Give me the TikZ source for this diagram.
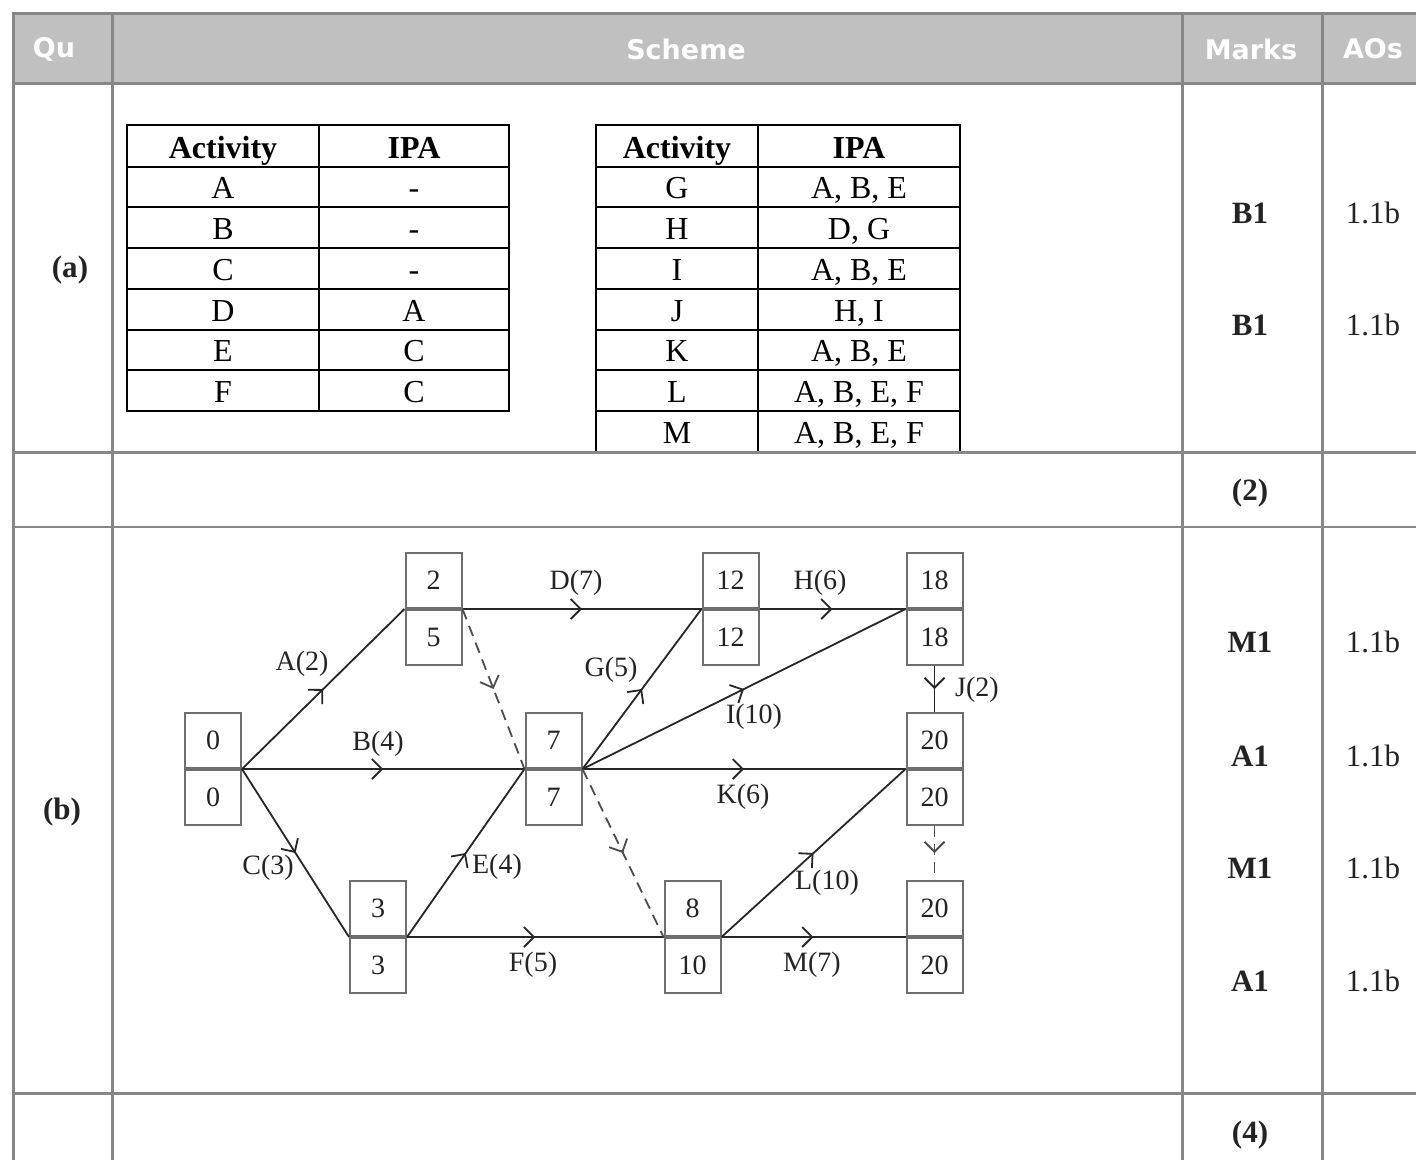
\documentclass[tikz,border=0pt]{standalone}
\usepackage{fontspec}
\setmainfont{Liberation Serif}
\newfontfamily\hdrfont{DejaVu Sans}
\usetikzlibrary{arrows.meta,decorations.markings}
\definecolor{gridc}{RGB}{135,135,135}
\definecolor{hdrc}{RGB}{192,192,192}
\definecolor{boxc}{RGB}{110,110,110}
\definecolor{inkc}{RGB}{35,35,35}
\newcommand\evbox[5]{%
  \node[cell] (#1t) at (#2,#3) {#4};
  \node[cell, anchor=north] (#1b) at (#1t.south) {#5};}
\begin{document}
\begin{tikzpicture}[x=1pt,y=-1pt,
  grid/.style={draw=gridc, line width=3pt},
  thingrid/.style={draw=gridc, line width=2pt},
  tline/.style={draw=black, line width=1.8pt},
  ttext/.style={font=\fontsize{32}{37}\selectfont, inner sep=0pt, anchor=base},
  tbold/.style={font=\fontsize{32}{37}\selectfont\bfseries, inner sep=0pt, anchor=base},
  hdr/.style={font=\hdrfont\bfseries\fontsize{27}{32}\selectfont, text=white, inner sep=0pt},
  mk/.style={font=\fontsize{31}{36}\selectfont\bfseries, inner sep=0pt, text=inkc},
  ao/.style={font=\fontsize{31}{36}\selectfont, inner sep=0pt, text=inkc},
  cell/.style={draw=boxc, line width=2pt, minimum width=56pt, minimum height=55pt, inner sep=0pt, font=\fontsize{28}{32}\selectfont, text=inkc},
  lab/.style={font=\fontsize{28}{32}\selectfont, text=inkc, inner sep=0pt},
  act/.style={draw=black!85, line width=1.8pt, postaction={decorate},
    decoration={markings, mark=at position 0.5 with {\arrow{Straight Barb[length=10pt,width=20pt]}}}},
  dummy/.style={act, draw=black!70, dash pattern=on 11pt off 7pt},
]
\useasboundingbox (0,0) rectangle (1416,1160);
\fill[white] (0,0) rectangle (1416,1160);
% header
\fill[hdrc] (13,13) rectangle (1416,83);
\node[hdr] (hqu) at (54,49) {Qu};
\node[hdr] (hsc) at (686,49) {Scheme};
\node[hdr] (hmk) at (1251,49) {Marks};
\node[hdr] (hao) at (1373,49) {AOs};

% small table 1
\draw[tline] (127,125) rectangle (509,411);
\draw[tline] (319,125) -- (319,411);
\foreach \y in {167,207,248,289,330,370} \draw[tline] (127,\y) -- (509,\y);
% small table 2
\draw[tline] (596,452) -- (596,125) -- (960,125) -- (960,452);
\draw[tline] (758,125) -- (758,452);
\foreach \y in {167,207,248,289,330,370,411} \draw[tline] (596,\y) -- (960,\y);

\node[tbold] (t1h1) at (223,158) {Activity};
\node[tbold] (t1h2) at (414,158) {IPA};
\node[ttext] (t1a) at (223,198) {A};  \node[ttext] (t1ap) at (414,198) {-};
\node[ttext] (t1b) at (223,239) {B};  \node[ttext] (t1bp) at (414,239) {-};
\node[ttext] (t1c) at (223,280) {C};  \node[ttext] (t1cp) at (414,280) {-};
\node[ttext] (t1d) at (223,321) {D};  \node[ttext] (t1dp) at (414,321) {A};
\node[ttext] (t1e) at (223,361) {E};  \node[ttext] (t1ep) at (414,361) {C};
\node[ttext] (t1f) at (223,402) {F};  \node[ttext] (t1fp) at (414,402) {C};

\node[tbold] (t2h1) at (677,158) {Activity};
\node[tbold] (t2h2) at (859,158) {IPA};
\node[ttext] (t2g) at (677,198) {G};  \node[ttext] (t2gp) at (859,198) {A, B, E};
\node[ttext] (t2h) at (677,239) {H};  \node[ttext] (t2hp) at (859,239) {D, G};
\node[ttext] (t2i) at (677,280) {I};  \node[ttext] (t2ip) at (859,280) {A, B, E};
\node[ttext] (t2j) at (677,321) {J};  \node[ttext] (t2jp) at (859,321) {H, I};
\node[ttext] (t2k) at (677,361) {K};  \node[ttext] (t2kp) at (859,361) {A, B, E};
\node[ttext] (t2l) at (677,402) {L};  \node[ttext] (t2lp) at (859,402) {A, B, E, F};
\node[ttext] (t2m) at (677,443) {M};  \node[ttext] (t2mp) at (859,443) {A, B, E, F};

% grid
\draw[grid] (13,1160) -- (13,13) -- (1416,13);
\draw[grid] (13,83) -- (1416,83);
\draw[grid] (112,13) -- (112,1160);
\draw[grid] (1182,13) -- (1182,1160);
\draw[grid] (1322,13) -- (1322,1160);
\draw[grid] (13,452) -- (1416,452);
\draw[thingrid] (13,527) -- (1416,527);
\draw[grid] (13,1093) -- (1416,1093);

% question labels
\node[mk] (qa) at (70,270) {(a)};
\node[mk] (qb) at (62,812) {(b)};

% marks and AOs
\node[mk] (m1) at (1250,213) {B1};
\node[mk] (m2) at (1250,325) {B1};
\node[mk] (m3) at (1250,493) {(2)};
\node[mk] (m4) at (1250,642) {M1};
\node[mk] (m5) at (1250,756) {A1};
\node[mk] (m6) at (1250,868) {M1};
\node[mk] (m7) at (1250,981) {A1};
\node[mk] (m8) at (1250,1135) {(4)};
\node[ao] (a1) at (1373,213) {1.1b};
\node[ao] (a2) at (1373,325) {1.1b};
\node[ao] (a4) at (1373,642) {1.1b};
\node[ao] (a5) at (1373,756) {1.1b};
\node[ao] (a6) at (1373,868) {1.1b};
\node[ao] (a7) at (1373,981) {1.1b};

% activity network
\evbox{n0}{213}{740.5}{0}{0}
\evbox{n2}{433.5}{580.5}{2}{5}
\evbox{n7}{553.5}{740.5}{7}{7}
\evbox{n3}{378}{908.5}{3}{3}
\evbox{n12}{730.5}{580.5}{12}{12}
\evbox{n8}{692.5}{908.5}{8}{10}
\evbox{n18}{934.5}{580.5}{18}{18}
\evbox{n20}{934.5}{740.5}{20}{20}
\evbox{n21}{934.5}{908.5}{20}{20}

\draw[act] (n0t.south east) -- (n2t.south west);
\draw[act] (n0t.south east) -- (n7t.south west);
\draw[act] (n0t.south east) -- (n3t.south west);
\draw[act] (n2t.south east) -- (n12t.south west);
\draw[dummy] (n2t.south east) -- (n7t.south west);
\draw[act] (n3t.south east) -- (n7t.south west);
\draw[act] (n3t.south east) -- (n8t.south west);
\draw[act] (n7t.south east) -- (n12t.south west);
\draw[act] (n7t.south east) -- (n18t.south west);
\draw[act] (n7t.south east) -- (n20t.south west);
\draw[dummy] (n7t.south east) -- (n8t.south west);
\draw[act] (n12t.south east) -- (n18t.south west);
\draw[act] (n18b.south) -- (n20t.north);
\draw[dummy] (n20b.south) -- (n21t.north);
\draw[act] (n8t.south east) -- (n20t.south west);
\draw[act] (n8t.south east) -- (n21t.south west);

\node[lab] (lA) at (302,664) {A(2)};
\node[lab] (lB) at (378,744) {B(4)};
\node[lab] (lC) at (268,868) {C(3)};
\node[lab] (lD) at (576,583) {D(7)};
\node[lab] (lE) at (497,867) {E(4)};
\node[lab] (lF) at (533,965) {F(5)};
\node[lab] (lG) at (611,670) {G(5)};
\node[lab] (lH) at (820,583) {H(6)};
\node[lab] (lI) at (754,717) {I(10)};
\node[lab] (lJ) at (977,690) {J(2)};
\node[lab] (lK) at (743,797) {K(6)};
\node[lab] (lL) at (827,883) {L(10)};
\node[lab] (lM) at (812,965) {M(7)};
\end{tikzpicture}
\end{document}
